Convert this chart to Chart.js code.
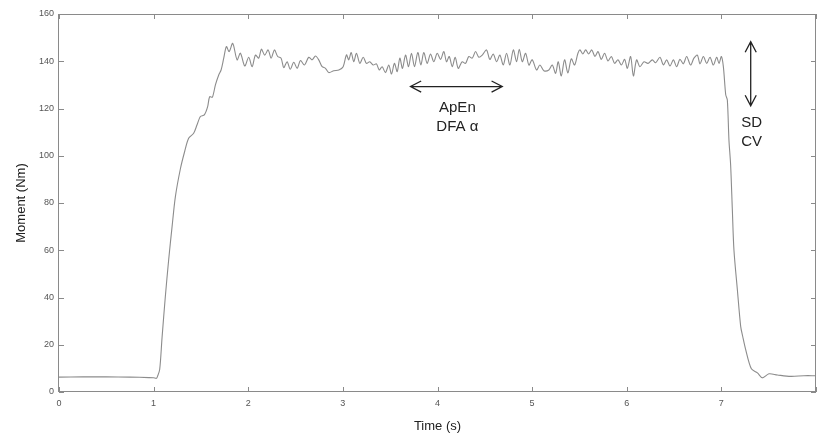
<!DOCTYPE html>
<html>
<head>
<meta charset="utf-8">
<script src="https://cdn.jsdelivr.net/npm/chart.js@4"></script>
<style>
  html, body { margin: 0; padding: 0; background: #fff; }
  #wrap { width: 818px; height: 436px; position: relative; }
</style>
</head>
<body>
<div id="wrap"><canvas id="momentChart"></canvas></div>
<script>
// Moment trace as [time (s), moment (Nm)]
const restStart = [
  [0, 6.3], [0.25, 6.4], [0.5, 6.4], [0.75, 6.3], [0.95, 6.1], [1.0, 6.0], [1.03, 5.8]
];
const rise = [
  [1.04, 6.5], [1.064, 9.5], [1.089, 23.0], [1.124, 40.5], [1.159, 56], [1.195, 70],
  [1.23, 82.7], [1.283, 94.5], [1.328, 101.8], [1.37, 107.4], [1.423, 109.5], [1.459, 113.1],
  [1.494, 116.6], [1.536, 117.3], [1.571, 120.8], [1.592, 125.0], [1.621, 124.8], [1.653, 130.0],
  [1.688, 134.2], [1.713, 136.3], [1.741, 141.3], [1.769, 146.2]
];
const plateau = [
  [1.798, 144.1], [1.836, 147.6], [1.882, 140.6], [1.917, 143.4], [1.963, 138.0], [2.005, 141.7],
  [2.041, 137.7], [2.076, 142.6], [2.111, 141.3], [2.139, 145.1], [2.174, 142.6], [2.21, 144.8],
  [2.242, 141.3], [2.277, 144.8], [2.311, 142.0], [2.347, 141.3], [2.375, 137.3], [2.411, 139.8],
  [2.444, 136.6], [2.481, 139.6], [2.517, 137.0], [2.552, 140.3], [2.594, 138.4], [2.639, 141.7],
  [2.675, 140.6], [2.71, 142.2], [2.745, 140.6], [2.781, 137.7], [2.816, 137.0], [2.851, 135.2],
  [2.904, 136.0], [2.957, 136.3], [3.003, 137.7], [3.038, 142.7], [3.062, 140.6], [3.088, 143.7],
  [3.115, 139.8], [3.144, 143.4], [3.179, 139.1], [3.215, 141.7], [3.249, 139.1], [3.284, 139.8],
  [3.32, 138.4], [3.355, 138.9], [3.384, 136.3], [3.415, 137.7], [3.45, 135.2], [3.485, 138.4],
  [3.514, 134.6], [3.545, 139.1], [3.574, 135.6], [3.602, 141.3], [3.63, 137.0], [3.662, 142.6],
  [3.694, 137.7], [3.725, 143.4], [3.757, 137.7], [3.792, 143.7], [3.824, 138.4], [3.855, 143.7],
  [3.891, 139.1], [3.926, 143.1], [3.961, 139.8], [3.997, 143.4], [4.032, 140.8], [4.067, 144.1],
  [4.095, 139.8], [4.124, 142.0], [4.156, 137.7], [4.187, 141.7], [4.219, 137.0], [4.261, 139.8],
  [4.296, 139.1], [4.331, 142.0], [4.367, 141.3], [4.402, 144.1], [4.437, 141.7], [4.473, 142.6],
  [4.518, 144.8], [4.553, 140.8], [4.589, 143.1], [4.624, 139.8], [4.659, 142.6], [4.695, 138.4],
  [4.73, 143.4], [4.765, 138.4], [4.801, 144.8], [4.836, 139.8], [4.864, 145.1], [4.896, 139.8],
  [4.931, 143.4], [4.966, 138.4], [5.001, 140.6], [5.047, 136.3], [5.082, 138.4], [5.124, 136.0],
  [5.177, 136.3], [5.213, 138.4], [5.248, 134.9], [5.276, 139.8], [5.308, 133.8], [5.343, 140.6],
  [5.378, 135.0], [5.414, 141.0], [5.449, 138.4], [5.484, 143.4], [5.505, 144.8], [5.535, 143.1],
  [5.566, 144.8], [5.598, 143.1], [5.63, 144.8], [5.664, 142.0], [5.696, 144.1], [5.731, 140.8],
  [5.766, 143.4], [5.801, 140.1], [5.837, 142.0], [5.872, 139.1], [5.907, 140.6], [5.943, 138.4],
  [5.978, 140.8], [6.006, 137.0], [6.041, 142.0], [6.07, 133.8], [6.104, 140.6], [6.139, 137.7],
  [6.182, 139.8], [6.224, 139.1], [6.27, 140.6], [6.305, 139.4], [6.351, 141.7], [6.387, 138.4],
  [6.422, 140.6], [6.457, 138.0], [6.493, 140.6], [6.527, 137.7], [6.562, 140.8], [6.598, 138.9],
  [6.633, 142.0], [6.675, 138.4], [6.71, 141.3], [6.746, 142.6], [6.774, 138.9], [6.81, 142.0],
  [6.845, 139.1], [6.88, 141.7], [6.915, 138.4], [6.95, 141.7], [6.975, 139.1], [7.0, 142.0],
  [7.021, 137.7]
];
const fall = [
  [7.046, 125.8], [7.063, 123.6], [7.08, 106.7], [7.098, 96], [7.116, 77], [7.133, 60],
  [7.169, 43.3], [7.204, 27.8], [7.225, 23.6], [7.257, 17.9], [7.317, 9.8], [7.381, 8.1]
];
const restEnd = [
  [7.434, 6.0], [7.503, 7.7], [7.592, 7.2], [7.733, 6.6], [7.873, 6.9], [7.997, 6.9]
];

// Axis ranges / tick steps
const X_MAX = 8, X_STEP = 1;
const Y_MAX = 160, Y_STEP = 20;

// Annotations (data units)
const windowArrow = { x1: 3.715, x2: 4.684, y: 129.3 };
const windowLabels = [['ApEn', 4.21, 120.1], ['DFA \u03b1', 4.21, 112.1]];
const ampArrow = { x: 7.31, y1: 148.3, y2: 121.1 };
const ampLabels = [['SD', 7.32, 113.8], ['CV', 7.32, 106.0]];

const FONT = "'Liberation Sans', Arial, sans-serif";

function drawArrow(ctx, x1, y1, x2, y2) {
  const ang = Math.atan2(y2 - y1, x2 - x1);
  const len = 12, spread = 0.48;
  ctx.beginPath();
  ctx.moveTo(x1, y1);
  ctx.lineTo(x2, y2);
  [[x1, y1, ang], [x2, y2, ang + Math.PI]].forEach(([px, py, a]) => {
    ctx.moveTo(px + len * Math.cos(a + spread), py + len * Math.sin(a + spread));
    ctx.lineTo(px, py);
    ctx.lineTo(px + len * Math.cos(a - spread), py + len * Math.sin(a - spread));
  });
  ctx.stroke();
}

// Box frame with inward ticks (MATLAB style) plus the arrows and labels
const frameAndNotes = {
  id: 'frameAndNotes',
  afterDraw(chart) {
    const { ctx, chartArea: a, scales: { x, y } } = chart;
    ctx.save();
    ctx.strokeStyle = '#8a8a8a';
    ctx.lineWidth = 1;
    ctx.strokeRect(Math.round(a.left) - 0.5, Math.round(a.top) + 0.5,
      Math.round(a.right - a.left), Math.round(a.bottom - a.top) - 1);
    ctx.beginPath();
    x.ticks.forEach(t => {
      const px = Math.round(x.getPixelForValue(t.value)) + 0.5;
      ctx.moveTo(px, a.bottom); ctx.lineTo(px, a.bottom - 5);
      ctx.moveTo(px, a.top); ctx.lineTo(px, a.top + 5);
    });
    y.ticks.forEach(t => {
      const py = Math.round(y.getPixelForValue(t.value)) + 0.5;
      ctx.moveTo(a.left, py); ctx.lineTo(a.left + 5, py);
      ctx.moveTo(a.right, py); ctx.lineTo(a.right - 5, py);
    });
    ctx.stroke();

    ctx.strokeStyle = '#222';
    ctx.lineWidth = 1.3;
    drawArrow(ctx, x.getPixelForValue(windowArrow.x1), y.getPixelForValue(windowArrow.y),
      x.getPixelForValue(windowArrow.x2), y.getPixelForValue(windowArrow.y));
    drawArrow(ctx, x.getPixelForValue(ampArrow.x), y.getPixelForValue(ampArrow.y1),
      x.getPixelForValue(ampArrow.x), y.getPixelForValue(ampArrow.y2));

    ctx.fillStyle = '#222';
    ctx.font = '15px ' + FONT;
    ctx.textAlign = 'center';
    ctx.textBaseline = 'middle';
    windowLabels.concat(ampLabels).forEach(([txt, vx, vy]) => {
      ctx.fillText(txt, x.getPixelForValue(vx), y.getPixelForValue(vy));
    });
    ctx.restore();
  }
};

const trace = [...restStart, ...rise, ...plateau, ...fall, ...restEnd].map(([t, m]) => ({ x: t, y: m }));

new Chart(document.getElementById('momentChart'), {
  type: 'line',
  data: {
    datasets: [{
      data: trace,
      borderColor: '#8c8c8c',
      borderWidth: 1.1,
      pointRadius: 0,
      tension: 0.3,
      fill: false
    }]
  },
  options: {
    responsive: true,
    maintainAspectRatio: false,
    animation: false,
    layout: { padding: { top: 14, right: 2, left: 0, bottom: 0 } },
    plugins: { legend: { display: false }, tooltip: { enabled: false } },
    scales: {
      x: {
        type: 'linear',
        min: 0,
        max: X_MAX,
        grid: { display: false, drawTicks: false },
        border: { display: false },
        ticks: {
          stepSize: X_STEP,
          padding: 6,
          color: '#555',
          font: { family: FONT, size: 9 },
          callback: v => (v === X_MAX ? '' : v)
        },
        title: {
          display: true,
          text: 'Time (s)',
          color: '#222',
          font: { family: FONT, size: 13 },
          padding: { top: 0, bottom: 2 }
        },
        afterFit: s => { s.height = 44; s.paddingRight = 0; s.paddingLeft = 0; }
      },
      y: {
        min: 0,
        max: Y_MAX,
        grid: { display: false, drawTicks: false },
        border: { display: false },
        ticks: {
          stepSize: Y_STEP,
          padding: 5,
          color: '#555',
          font: { family: FONT, size: 9 }
        },
        title: {
          display: true,
          text: 'Moment (Nm)',
          color: '#222',
          font: { family: FONT, size: 13 },
          padding: { top: 14, bottom: 0 }
        },
        afterFit: s => { s.width = 59; }
      }
    }
  },
  plugins: [frameAndNotes]
});
</script>
</body>
</html>
